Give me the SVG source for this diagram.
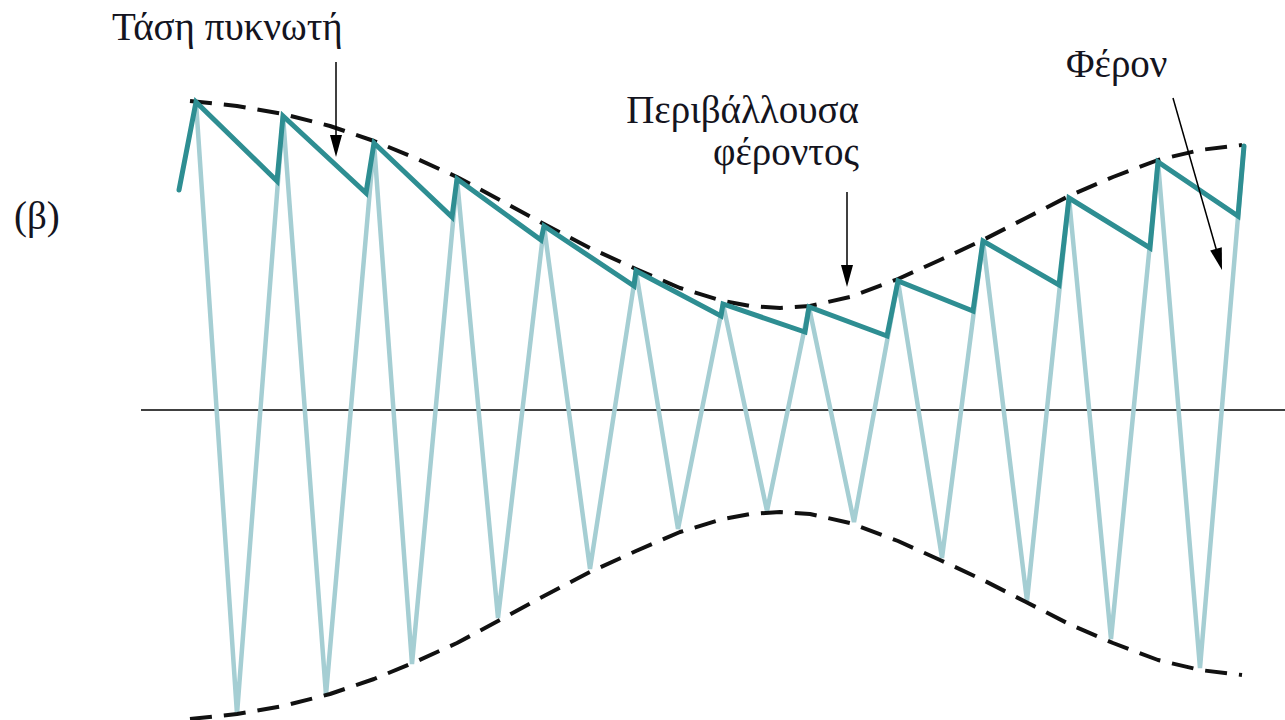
<svg xmlns="http://www.w3.org/2000/svg" width="1285" height="720" viewBox="0 0 1285 720">
  <defs>
    <style>
      .lbl { font-family: "Liberation Serif", "Times New Roman", serif; font-size: 39px; fill: #141420; }
      .env { fill: none; stroke: #111; stroke-width: 4; stroke-dasharray: 22 12; stroke-linejoin: round; }
      .carrier { fill: none; stroke: #a5ced3; stroke-width: 4.5; stroke-linejoin: miter; }
      .cap { fill: none; stroke: #2e8e92; stroke-width: 5; stroke-linejoin: miter; stroke-linecap: round; }
      .arr { stroke: #000; stroke-width: 1.5; fill: none; }
      .head { fill: #000; }
    </style>
  </defs>
  <rect width="1285" height="720" fill="#ffffff"/>

  <g id="axis">
    <line x1="141" y1="410" x2="1285" y2="410" stroke="#000" stroke-width="1.6"/>
  </g>

  <g id="carrier-wave">
    <path class="carrier" d="M196,102 L237,714 L283,116 L326,695 L374,143 L412,664 L457,179 L498,618 L544,226 L590,569 L636,271 L678,529 L723,304 L767,511 L809,307 L854,522 L898,281 L942,558 L983,241 L1027,601 L1069,198 L1111,639 L1158,162 L1200,668 L1244,146"/>
  </g>

  <g id="envelope-upper">
    <path class="env" d="M190,101 L237,106 L283,114 L330,126 L374,141 L415,158 L457,177 L500,200 L544,224 L590,248 L636,269 L680,288 L723,301 L750,306 L780,308 L810,306 L850,297 L898,279 L940,260 L983,240 L1026,218 L1069,196 L1113,177 L1158,160 L1200,150 L1242,145"/>
  </g>

  <g id="envelope-lower">
    <path class="env" d="M190,719 L237,714 L283,706 L330,694 L374,679 L415,662 L457,643 L500,620 L544,596 L590,572 L636,551 L680,532 L723,519 L750,514 L780,512 L810,514 L850,523 L898,541 L940,560 L983,580 L1026,602 L1069,624 L1113,643 L1158,660 L1200,670 L1242,675"/>
  </g>

  <g id="capacitor-voltage">
    <path class="cap" d="M179,190 L196,102 L277,181 L283,116 L366,193 L374,143 L452,217 L457,179 L541,240 L544,226 L634,286 L636,271 L721,316 L723,304 L805,332 L809,307 L887,336 L898,281 L973,311 L983,241 L1059,285 L1069,198 L1150,248 L1158,162 L1238,216 L1244,146"/>
  </g>

  <g id="label-beta">
    <text class="lbl" x="14" y="229">(β)</text>
  </g>
  <g id="label-capacitor">
    <text class="lbl" x="112" y="40">Τάση πυκνωτή</text>
  </g>
  <g id="label-envelope">
    <text class="lbl" x="859" y="123" text-anchor="end">Περιβάλλουσα</text>
    <text class="lbl" x="859" y="165" text-anchor="end">φέροντος</text>
  </g>
  <g id="label-carrier">
    <text class="lbl" x="1066" y="77">Φέρον</text>
  </g>

  <g id="connectors">
    <line class="arr" x1="336" y1="62" x2="336" y2="140"/>
    <polygon class="head" points="336,157 330,135 342,135"/>
    <line class="arr" x1="847" y1="192" x2="847" y2="270"/>
    <polygon class="head" points="847,287 841,265 853,265"/>
    <line class="arr" x1="1173" y1="98" x2="1217" y2="252"/>
    <polygon class="head" points="1222,270 1210.2,250.4 1221.8,247.2"/>
  </g>
</svg>
